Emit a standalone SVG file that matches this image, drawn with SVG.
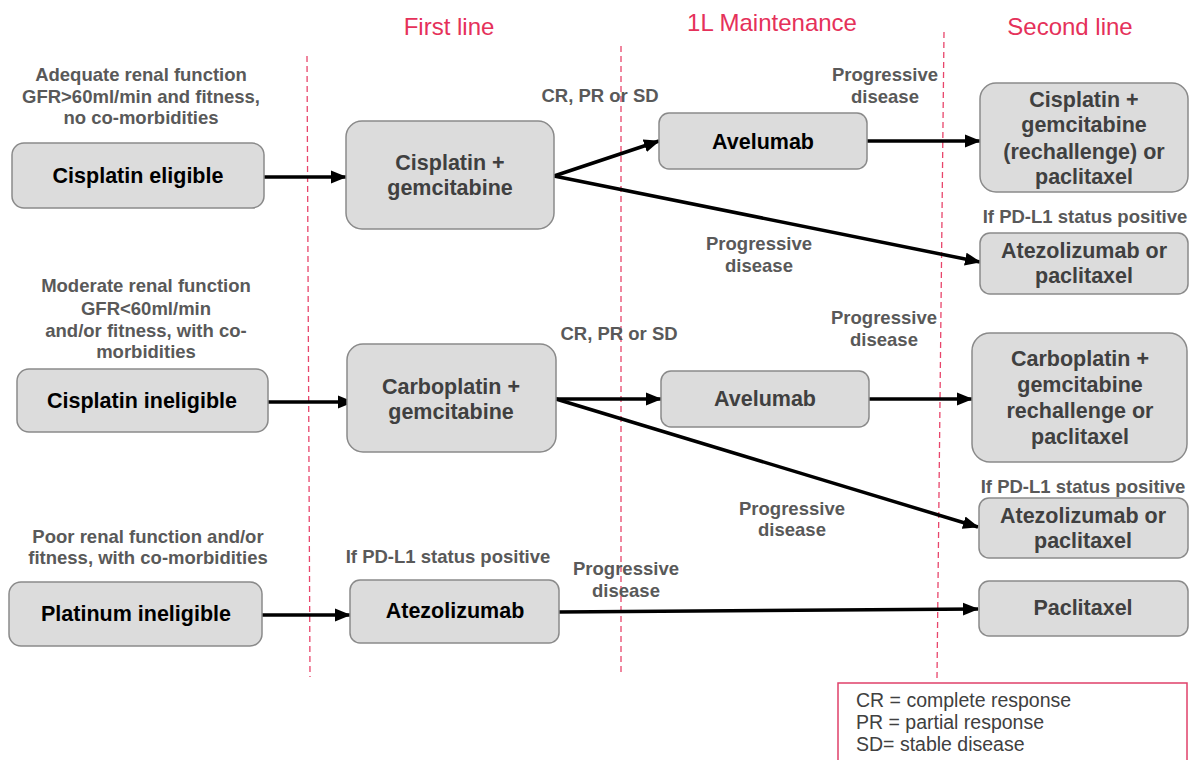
<svg xmlns="http://www.w3.org/2000/svg" width="1192" height="760" viewBox="0 0 1192 760">
  <defs>
    <marker id="arrow" markerUnits="userSpaceOnUse" markerWidth="18" markerHeight="14" refX="15" refY="7" orient="auto">
      <path d="M0,0.5 L16,7 L0,13.5 Z" fill="#000"/>
    </marker>
    <style>
      .box { fill: #dcdcdc; stroke: #8a8a8a; stroke-width: 1.5; }
      .ntext { font-family: "Liberation Sans", Arial, sans-serif; font-weight: bold; font-size: 21.5px; text-anchor: middle; fill: #404040; }
      .ntext.dark { fill: #000; }
      .label { font-family: "Liberation Sans", Arial, sans-serif; font-weight: bold; font-size: 18.5px; text-anchor: middle; fill: #595959; }
      .header { font-family: "Liberation Sans", Arial, sans-serif; font-size: 24px; text-anchor: middle; fill: #e5315a; }
      .divider { stroke: #e8456b; stroke-width: 1.3; stroke-dasharray: 6 4; fill: none; }
      .conn { stroke: #000; stroke-width: 3.5; fill: none; marker-end: url(#arrow); }
      .legend { font-family: "Liberation Sans", Arial, sans-serif; font-size: 19.5px; fill: #404040; }
    </style>
  </defs>

  <rect width="1192" height="760" fill="#fff"/>

  <!-- column headers -->
  <g id="headers">
    <text class="header" x="449" y="35">First line</text>
    <text class="header" x="772" y="31">1L Maintenance</text>
    <text class="header" x="1070" y="35">Second line</text>
  </g>

  <!-- column dividers -->
  <g id="dividers">
    <line class="divider" x1="307" y1="56" x2="310" y2="677"/>
    <line class="divider" x1="621" y1="46" x2="621" y2="673"/>
    <line class="divider" x1="944" y1="32" x2="937" y2="678"/>
  </g>

  <!-- connectors -->
  <g id="connectors">
    <line class="conn" x1="264" y1="177" x2="346" y2="177"/>
    <line class="conn" x1="554" y1="176" x2="659" y2="141"/>
    <line class="conn" x1="554" y1="176" x2="980" y2="262"/>
    <line class="conn" x1="867" y1="141" x2="980" y2="141"/>
    <line class="conn" x1="268" y1="402" x2="353" y2="402"/>
    <line class="conn" x1="556" y1="399" x2="661" y2="399"/>
    <line class="conn" x1="556" y1="399" x2="978" y2="527"/>
    <line class="conn" x1="869" y1="399" x2="972" y2="399"/>
    <line class="conn" x1="262" y1="615" x2="350" y2="615"/>
    <line class="conn" x1="559" y1="612" x2="978" y2="609"/>
  </g>

  <!-- edge and condition labels -->
  <g id="labels">
    <text class="label" x="141" y="81">Adequate renal function</text>
    <text class="label" x="141" y="103">GFR&gt;60ml/min and fitness,</text>
    <text class="label" x="141" y="124">no co-morbidities</text>
    <text class="label" x="600" y="102">CR, PR or SD</text>
    <text class="label" x="885" y="81">Progressive</text>
    <text class="label" x="885" y="103">disease</text>
    <text class="label" x="1085" y="223">If PD-L1 status positive</text>
    <text class="label" x="759" y="250">Progressive</text>
    <text class="label" x="759" y="272">disease</text>

    <text class="label" x="146" y="292">Moderate renal function</text>
    <text class="label" x="146" y="315">GFR&lt;60ml/min</text>
    <text class="label" x="146" y="337">and/or fitness, with co-</text>
    <text class="label" x="146" y="358">morbidities</text>
    <text class="label" x="619" y="340">CR, PR or SD</text>
    <text class="label" x="884" y="324">Progressive</text>
    <text class="label" x="884" y="346">disease</text>
    <text class="label" x="1083" y="493">If PD-L1 status positive</text>
    <text class="label" x="792" y="515">Progressive</text>
    <text class="label" x="792" y="536">disease</text>

    <text class="label" x="148" y="543">Poor renal function and/or</text>
    <text class="label" x="148" y="564">fitness, with co-morbidities</text>
    <text class="label" x="448" y="563">If PD-L1 status positive</text>
    <text class="label" x="626" y="575">Progressive</text>
    <text class="label" x="626" y="597">disease</text>
  </g>

  <!-- row 1 -->
  <g id="cisplatin-eligible">
    <rect class="box" x="12" y="143" width="252" height="65" rx="12"/>
    <text class="ntext dark" x="138" y="183">Cisplatin eligible</text>
  </g>
  <g id="cis-gem">
    <rect class="box" x="346" y="121" width="208" height="108" rx="16"/>
    <text class="ntext" x="450" y="170">Cisplatin +</text>
    <text class="ntext" x="450" y="195">gemcitabine</text>
  </g>
  <g id="avelumab-1">
    <rect class="box" x="659" y="113" width="208" height="56" rx="10"/>
    <text class="ntext dark" x="763" y="149">Avelumab</text>
  </g>
  <g id="cis-gem-rechallenge">
    <rect class="box" x="980" y="83" width="208" height="109" rx="16"/>
    <text class="ntext" x="1084" y="107">Cisplatin +</text>
    <text class="ntext" x="1084" y="132">gemcitabine</text>
    <text class="ntext" x="1084" y="159">(rechallenge) or</text>
    <text class="ntext" x="1084" y="184">paclitaxel</text>
  </g>
  <g id="atezo-pacli-1">
    <rect class="box" x="980" y="233" width="208" height="61" rx="10"/>
    <text class="ntext" x="1084" y="258">Atezolizumab or</text>
    <text class="ntext" x="1084" y="283">paclitaxel</text>
  </g>

  <!-- row 2 -->
  <g id="cisplatin-ineligible">
    <rect class="box" x="17" y="369" width="251" height="63" rx="12"/>
    <text class="ntext dark" x="142" y="408">Cisplatin ineligible</text>
  </g>
  <g id="carbo-gem">
    <rect class="box" x="347" y="344" width="209" height="108" rx="16"/>
    <text class="ntext" x="451" y="394">Carboplatin +</text>
    <text class="ntext" x="451" y="419">gemcitabine</text>
  </g>
  <g id="avelumab-2">
    <rect class="box" x="661" y="371" width="208" height="56" rx="10"/>
    <text class="ntext" x="765" y="406">Avelumab</text>
  </g>
  <g id="carbo-gem-rechallenge">
    <rect class="box" x="972" y="333" width="215" height="129" rx="18"/>
    <text class="ntext" x="1080" y="366">Carboplatin +</text>
    <text class="ntext" x="1080" y="392">gemcitabine</text>
    <text class="ntext" x="1080" y="418">rechallenge or</text>
    <text class="ntext" x="1080" y="444">paclitaxel</text>
  </g>
  <g id="atezo-pacli-2">
    <rect class="box" x="979" y="498" width="209" height="60" rx="10"/>
    <text class="ntext" x="1083" y="523">Atezolizumab or</text>
    <text class="ntext" x="1083" y="548">paclitaxel</text>
  </g>

  <!-- row 3 -->
  <g id="platinum-ineligible">
    <rect class="box" x="9" y="582" width="253" height="64" rx="12"/>
    <text class="ntext dark" x="136" y="621">Platinum ineligible</text>
  </g>
  <g id="atezolizumab">
    <rect class="box" x="350" y="580" width="209" height="63" rx="10"/>
    <text class="ntext dark" x="455" y="618">Atezolizumab</text>
  </g>
  <g id="paclitaxel">
    <rect class="box" x="979" y="581" width="209" height="55" rx="10"/>
    <text class="ntext" x="1083" y="615">Paclitaxel</text>
  </g>

  <!-- abbreviations -->
  <g id="legend">
    <rect x="838" y="683" width="349" height="90" fill="#fff" stroke="#e0406a" stroke-width="1.5"/>
    <text class="legend" x="856" y="707">CR = complete response</text>
    <text class="legend" x="856" y="729">PR = partial response</text>
    <text class="legend" x="856" y="751">SD= stable disease</text>
  </g>
</svg>
